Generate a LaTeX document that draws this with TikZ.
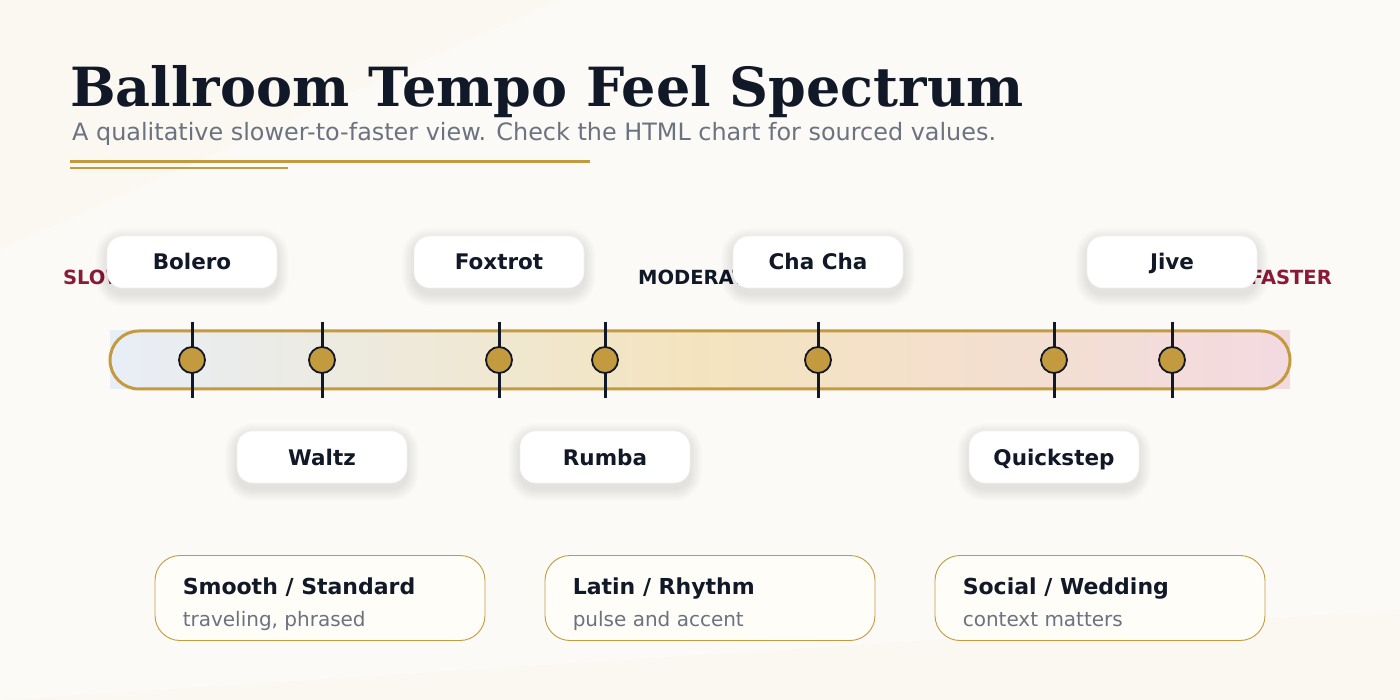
\documentclass[tikz,border=0pt]{standalone}
\usepackage{fontspec}
\setmainfont{DejaVu Sans}
\newfontfamily\titlefont{DejaVu Serif}
\usetikzlibrary{positioning, calc}

\definecolor{ink}{HTML}{111827}
\definecolor{muted}{HTML}{6B7280}
\definecolor{gold}{HTML}{C49A3E}
\definecolor{wine}{HTML}{8B1A3A}
\definecolor{paper}{HTML}{FAF8F0}
\definecolor{cardfill}{HTML}{FFFDF8}
\definecolor{coolend}{HTML}{E8EEF6}
\definecolor{midtone}{HTML}{F4E4BE}
\definecolor{warmend}{HTML}{F3DAE1}

\tikzset{
  dance/.style={fill=white, draw=black!5, line width=0.6pt, rounded corners=16pt, minimum width=170pt,
    minimum height=52pt, text height=18.5pt, text depth=2.5pt,
    font=\fontsize{21.5}{24}\selectfont\bfseries, text=ink},
  halo/.style={fill=black, opacity=0.008},
  tick/.style={draw=ink, line width=3pt},
  dot/.style={circle, draw=ink, fill=gold, line width=1.8pt, minimum size=26pt, inner sep=0pt},
  endlabel/.style={font=\fontsize{19.5}{22}\selectfont\bfseries, inner sep=0pt},
  card/.style={draw=gold, line width=0.9pt, fill=cardfill, rounded corners=25pt,
    minimum width=330pt, minimum height=85pt},
  cardhead/.style={font=\fontsize{22}{24}\selectfont\bfseries, text=ink, anchor=base west, inner sep=0pt},
  cardsub/.style={font=\fontsize{20}{22}\selectfont, text=muted, anchor=base west, inner sep=0pt}
}

\begin{document}
\begin{tikzpicture}[x=1pt, y=-1pt]
	% page and background
	\useasboundingbox (0,0) rectangle (1400,700);
	\fill[paper] (0,0) rectangle (1400,700);
	\fill[white, opacity=0.4] (0,250) -- (560,0) -- (1400,0) -- (1400,610) -- (0,700) -- cycle;
	
	% title block
	\node[anchor=base west, inner sep=0pt, text=ink, font=\fontsize{54}{60}\selectfont\titlefont\bfseries] (title) at (70,107) {Ballroom Tempo Feel Spectrum};
	\node[anchor=base west, inner sep=0pt, text=muted, font=\fontsize{23.9}{28}\selectfont] (subtitle) at (72,141) {A qualitative slower-to-faster view. Check the HTML chart for sourced values.};
	\draw[gold, line width=3pt] (70,162) -- (590,162);
	\draw[gold, line width=1.2pt] (70,168) -- (288,168);
	
	% end labels
	\node[endlabel, text=wine, anchor=base west] (slow) at (63,285) {SLOWER};
	\node[endlabel, text=ink, anchor=base west] (moderate) at (638,285) {MODERATE};
	\node[endlabel, text=wine, anchor=base east] (fast) at (1332,285) {FASTER};
	
	% the spectrum bar
	\shade[left color=coolend, right color=warmend, middle color=midtone] (110,331) rectangle (1290,389);
	\draw[gold, line width=3pt, rounded corners=29pt] (110,331) rectangle (1290,389);
	
	% ticks and dots
	\foreach \x/\n in {192/bolero, 322/waltz, 499/foxtrot, 605/rumba, 818/chacha, 1054/quickstep, 1172/jive}{
		\draw[tick] (\x,322) -- (\x,398);
		\node[dot] (d-\n) at (\x,360) {};
	}
	
	% soft shadows under the labels
	\foreach \x/\y in {192/262, 499/262, 818/262, 1172/262, 322/457, 605/457, 1054/457}
		\foreach \s in {1,...,12}
			\fill[halo, rounded corners=16pt+\s pt] (\x-85-\s,\y-22-\s) rectangle (\x+85+\s,\y+32+\s);
	
	% dance labels above
	\node[dance] (bolero) at (192,262) {Bolero};
	\node[dance] (foxtrot) at (499,262) {Foxtrot};
	\node[dance] (chacha) at (818,262) {Cha Cha};
	\node[dance] (jive) at (1172,262) {Jive};
	
	% dance labels below
	\node[dance] (waltz) at (322,457) {Waltz};
	\node[dance] (rumba) at (605,457) {Rumba};
	\node[dance] (quickstep) at (1054,457) {Quickstep};
	
	% family cards
	\node[card] (smooth) at (320,598) {};
	\node[card] (latin) at (710,598) {};
	\node[card] (social) at (1100,598) {};
	\node[cardhead] at ($(smooth.west)+(28,-4)$) {Smooth / Standard};
	\node[cardsub] at ($(smooth.west)+(28,28)$) {traveling, phrased};
	\node[cardhead] at ($(latin.west)+(28,-4)$) {Latin / Rhythm};
	\node[cardsub] at ($(latin.west)+(28,28)$) {pulse and accent};
	\node[cardhead] at ($(social.west)+(28,-4)$) {Social / Wedding};
	\node[cardsub] at ($(social.west)+(28,28)$) {context matters};
	
\end{tikzpicture}
\end{document}
